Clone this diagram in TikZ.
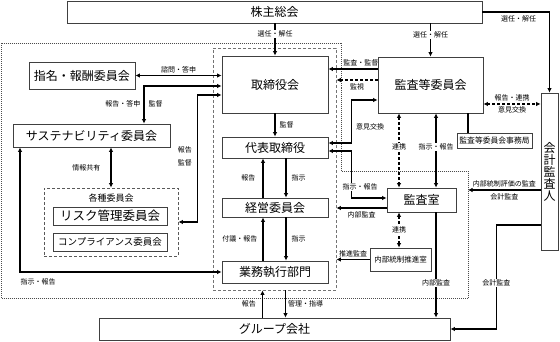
\documentclass[tikz,border=0pt]{standalone}
\usepackage{fontspec}
\setmainfont{Noto Sans CJK JP}
\usetikzlibrary{arrows.meta,calc}

\begin{document}
\begin{tikzpicture}[x=1pt, y=-1pt,
    box/.style={draw=black!75, line width=0.8pt, fill=white, inner sep=0pt, font=\fontsize{12}{12}\selectfont},
    lbl/.style={font=\fontsize{7}{7}\selectfont, inner sep=1pt},
    wlbl/.style={lbl, fill=white},
    arr/.style={line width=1.1pt, -{Latex[length=4.5pt,width=4.5pt]}},
    darr/.style={line width=1.1pt, {Latex[length=4.5pt,width=4.5pt]}-{Latex[length=4.5pt,width=4.5pt]}},
    dsh/.style={dash pattern=on 3pt off 2pt},
    frame/.style={draw=black!55, line width=0.8pt, dash pattern=on 3pt off 2pt, inner sep=0pt}]

    \useasboundingbox (0,0) rectangle (560,342);

    % 点線の枠
    \coordinate (f1) at (1.5,43);
    \coordinate (f2) at (341,43);
    \coordinate (f3) at (341,171);
    \coordinate (f4) at (468,171);
    \coordinate (f5) at (468,298);
    \coordinate (f6) at (1.5,298);
    \draw[black!70, line width=0.6pt, dash pattern=on 1pt off 1pt] (f1) -- (f2) -- (f3) -- (f4) -- (f5) -- (f6) -- cycle;

    % 破線の枠
    \node[frame, minimum width=123pt, minimum height=242pt] (board) at (274.5,169) {};
    \node[frame, draw=black!65, minimum width=134pt, minimum height=68pt] (kakushu) at (111,222) {};
    \node[font=\fontsize{9}{9}\selectfont] (kakushutitle) at (111,198) {各種委員会};

    % 箱
    \node[box, minimum width=415pt, minimum height=22pt] (kabunushi) at (274.5,12) {株主総会};
    \node[box, minimum width=106pt, minimum height=27pt] (shimei) at (82,75.5) {指名・報酬委員会};
    \node[box, minimum width=157pt, minimum height=23pt] (sustain) at (91.5,135.5) {サステナビリティ委員会};
    \node[box, minimum width=114pt, minimum height=18pt, font=\fontsize{12.5}{12.5}\selectfont] (risk) at (110,216) {リスク管理委員会};
    \node[box, minimum width=114pt, minimum height=18pt, font=\fontsize{9.5}{9.5}\selectfont] (comp) at (110,242) {コンプライアンス委員会};
    \node[box, minimum width=106pt, minimum height=57pt] (torishimari) at (275,84.5) {取締役会};
    \node[box, minimum width=106pt, minimum height=21pt] (daihyo) at (275,147.5) {代表取締役};
    \node[box, minimum width=106pt, minimum height=19pt] (keiei) at (275,207.5) {経営委員会};
    \node[box, minimum width=106pt, minimum height=22pt] (gyomu) at (275,272) {業務執行部門};
    \node[box, minimum width=105pt, minimum height=56pt] (kansa) at (430.5,85) {監査等委員会};
    \node[box, minimum width=75pt, minimum height=15pt, font=\fontsize{7.8}{7.8}\selectfont] (jimukyoku) at (494.5,140.5) {監査等委員会事務局};
    \node[box, minimum width=17pt, minimum height=157pt, align=center] (kaikei) at (549.5,171.5) {会\\計\\監\\査\\人};
    \node[box, minimum width=69pt, minimum height=24pt] (kansashitsu) at (421.5,200) {監査室};
    \node[box, minimum width=61pt, minimum height=23pt, font=\fontsize{7.5}{7.5}\selectfont] (suishin) at (400.5,259.5) {内部統制推進室};
    \node[box, minimum width=351pt, minimum height=22pt] (group) at (274.5,329) {グループ会社};

    % 株主総会から
    \draw[arr] (kabunushi.south -| torishimari.north) -- node[wlbl, pos=0.33] (l1) {選任・解任} (torishimari.north);
    \draw[arr] (kabunushi.south -| kansa.north) -- node[wlbl, pos=0.35] (l2) {選任・解任} (kansa.north);
    \draw[arr] (kabunushi.east) -| node[lbl, below=2pt, pos=0.27] (l3) {選任・解任} (kaikei.north);

    % 指名・報酬委員会, サステナビリティ委員会, 各種委員会
    \draw[darr] (shimei.east) -- node[lbl, above=1pt] (l4) {諮問・答申} (shimei.east -| torishimari.west);
    \coordinate (s1) at ([xshift=52.5pt]sustain.north);
    \coordinate (t1) at ([yshift=-1.5pt]torishimari.west);
    \draw[darr] (s1) |- node[lbl, left=2pt, pos=0.26] (l5) {報告・答申} node[lbl, right=3pt, pos=0.26] (l6) {監督} (t1);
    \coordinate (t2) at ([yshift=-10.5pt]torishimari.west);
    \coordinate (k1) at ([xshift=19pt]kakushu.east);
    \draw[darr] (t2) -| node[lbl, left=4pt, pos=0.74, align=center, font=\fontsize{7}{13}\selectfont] (l7) {報告\\監督} (k1) -- (kakushu.east);
    \draw[darr] (kakushu.north |- sustain.south) -- node[lbl, left=9pt] (l8) {情報共有} (kakushu.north);
    \coordinate (s2) at ([xshift=-71.5pt]sustain.south);
    \draw[darr] (s2) |- node[lbl, below=5pt, pos=0.545] (l9) {指示・報告} (gyomu.west);

    % 取締役会から業務執行部門まで
    \draw[arr] (torishimari.south) -- node[lbl, right=3pt] (l10) {監督} (daihyo.north);
    \draw[arr] ([xshift=11pt]daihyo.south) -- node[lbl, right=4pt] (l11) {指示} ([xshift=11pt]keiei.north);
    \draw[arr] ([xshift=-12pt]keiei.north) -- node[lbl, left=6pt] (l12) {報告} ([xshift=-12pt]daihyo.south);
    \draw[arr] ([xshift=11pt]keiei.south) -- node[lbl, right=4pt] (l13) {指示} ([xshift=11pt]gyomu.north);
    \draw[arr] ([xshift=-12pt]gyomu.north) -- node[lbl, left=4pt] (l14) {付議・報告} ([xshift=-12pt]keiei.south);

    % グループ会社
    \draw[arr] ([xshift=-12pt]group.north) -- node[lbl, left=5pt] (l15) {報告} ([xshift=-12pt]board.south);
    \draw[arr] ([xshift=11pt]board.south) -- node[lbl, right=1pt] (l16) {管理・指導} ([xshift=11pt]group.north);

    % 監査等委員会から
    \coordinate (a1) at ([yshift=16pt]kansa.west);
    \draw[arr] (a1) -- node[lbl, above=1pt, pos=0.34] (l17) {監査・監督} (a1 -| torishimari.east);
    \coordinate (a2) at ([yshift=5pt]kansa.west);
    \draw[arr, dsh] (a2) -- node[lbl, below=2pt] (l18) {監視} (a2 -| board.east);
    \coordinate (a3) at ([yshift=-15pt]kansa.west);
    \coordinate (d1) at ([yshift=4.5pt]daihyo.east);
    \draw[darr] (a3) -- ++(-26,0) |- node[lbl, right=3pt, pos=0.31] (l19) {意見交換} (d1);
    \coordinate (d2) at ([yshift=-3.5pt]daihyo.east);
    \coordinate (m1) at ([yshift=2pt]kansashitsu.west);
    \draw[darr] (d2) -| ([xshift=-35pt]m1) -- (m1);
    \node[wlbl] (l20) at (360,187) {指示・報告};
    \coordinate (m2) at ([yshift=-8pt]kansashitsu.west);
    \draw[arr] (m2) -- node[lbl, below=2pt] (l21) {内部監査} (m2 -| board.east);

    % 監査室
    \coordinate (a4) at ([xshift=-31.5pt]kansa.south);
    \coordinate (a5) at ([xshift=5.5pt]kansa.south);
    \draw[darr, dsh] (a4) -- node[wlbl, pos=0.45] (l22) {連携} (a4 |- kansashitsu.north);
    \draw[darr] (a5) -- node[wlbl, pos=0.45] (l23) {指示・報告} (a5 |- kansashitsu.north);
    \draw[darr, dsh] (a4 |- kansashitsu.south) -- node[wlbl] (l24) {連携} (a4 |- suishin.north);
    \draw[arr] (suishin.west) -- node[lbl, above=1pt] (l25) {推進監査} (suishin.west -| board.east);
    \draw[arr] (a5 |- kansashitsu.south) -- node[wlbl, pos=0.67] (l26) {内部監査} (a5 |- group.north);

    % 監査等委員会事務局
    \coordinate (a7) at ([xshift=37.5pt]kansa.south);
    \draw[line width=1.1pt] (a7) -- (a7 |- jimukyoku.north);

    % 会計監査人
    \coordinate (a6) at ([yshift=-19pt]kansa.east);
    \draw[darr, dsh] (a6) -- node[lbl, above=1pt] (l27) {報告・連携} node[lbl, below=1pt] (l28) {意見交換} (a6 -| kaikei.west);
    \coordinate (k2) at ([yshift=-18.5pt]kaikei.west);
    \draw[arr] (k2) -- node[lbl, above=1pt] (l29) {内部統制評価の監査} node[lbl, below=2pt] (l30) {会計監査} (k2 -| f4);
    \coordinate (k3) at ([yshift=-53.5pt]kaikei.west);
    \draw[arr] (k3) -| node[wlbl, pos=0.78] (l31) {会計監査} ([xshift=46pt]group.east) -- (group.east);

\end{tikzpicture}
\end{document}
